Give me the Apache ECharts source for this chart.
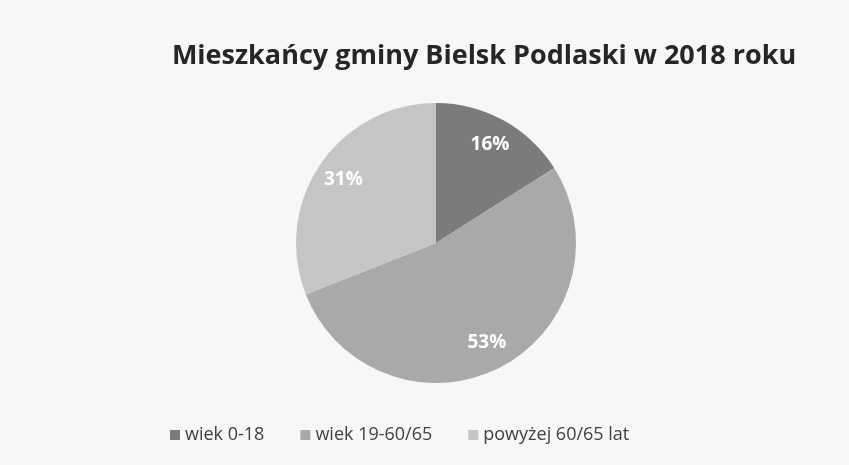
<!DOCTYPE html>
<html>
<head>
    <meta charset="UTF-8" />
    <title>Mieszkańcy gminy Bielsk Podlaski</title>
    <script src="https://cdn.jsdelivr.net/npm/echarts@6/dist/echarts.min.js"></script>
    <style>
        html, body { margin: 0; padding: 0; background: #f7f7f7; }
        #main { width: 849px; height: 465px; }
    </style>
</head>
<body>
<div id="main"></div>
<script>
var myChart = echarts.init(document.getElementById('main'));

// age groups and their shares (%)
var categories = ['wiek 0-18', 'wiek 19-60/65', 'powyżej 60/65 lat'];
var shares = [16, 53, 31];
var colors = ['#7b7b7b', '#a9a9a9', '#c5c5c5'];

var pieData = categories.map(function (name, i) {
    return { name: name, value: shares[i] };
});

var option = {
    backgroundColor: '#f7f7f7',
    color: colors,
    title: {
        text: 'Mieszkańcy gminy Bielsk Podlaski w 2018 roku',
        left: 479,
        textAlign: 'center',
        top: 38,
        textStyle: {
            fontFamily: 'Open Sans',
            fontSize: 27,
            fontWeight: 'bold',
            color: '#262626'
        }
    },
    legend: {
        top: 421,
        left: 165,
        itemWidth: 10,
        itemHeight: 10,
        itemGap: 36,
        icon: 'rect',
        textStyle: {
            fontFamily: 'Open Sans',
            fontSize: 18,
            color: '#404040'
        },
        data: categories
    },
    series: [
        {
            // the slices
            type: 'pie',
            center: [436, 243],
            radius: [0, 140],
            startAngle: 90,
            clockwise: true,
            label: { show: false },
            labelLine: { show: false },
            emphasis: { disabled: true },
            itemStyle: { borderWidth: 0 },
            data: pieData
        },
        {
            // transparent ring only used to push the labels outward
            type: 'pie',
            center: [436, 243],
            radius: [78, 140],
            startAngle: 90,
            clockwise: true,
            silent: true,
            itemStyle: { color: 'rgba(0,0,0,0)' },
            label: {
                show: true,
                position: 'inside',
                formatter: '{d}%',
                fontFamily: 'Open Sans',
                fontSize: 19,
                fontWeight: 'bold',
                color: '#ffffff'
            },
            labelLine: { show: false },
            emphasis: { disabled: true },
            data: pieData
        }
    ]
};

myChart.setOption(option);
</script>
</body>
</html>
